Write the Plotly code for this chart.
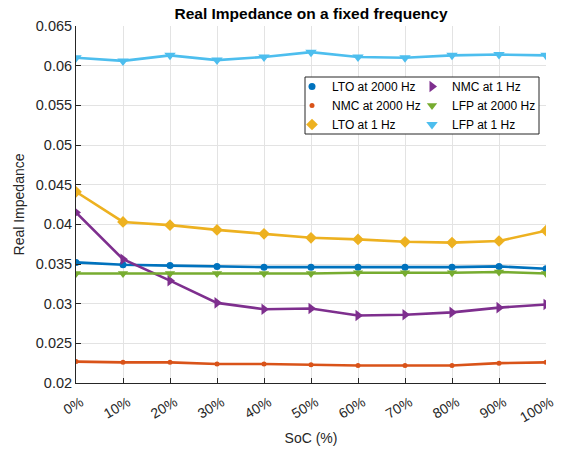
import plotly.graph_objects as go

soc = [0, 10, 20, 30, 40, 50, 60, 70, 80, 90, 100]
soc_labels = ["0%", "10%", "20%", "30%", "40%", "50%", "60%", "70%", "80%", "90%", "100%"]

lto_2000 = [0.0352, 0.0349, 0.0348, 0.0347, 0.0346, 0.0346, 0.0346, 0.0346, 0.0346, 0.0347, 0.0344]
nmc_2000 = [0.0227, 0.0226, 0.0226, 0.0224, 0.0224, 0.0223, 0.0222, 0.0222, 0.0222, 0.0225, 0.0226]
lto_1 = [0.0441, 0.0403, 0.0399, 0.0393, 0.0388, 0.0383, 0.0381, 0.0378, 0.0377, 0.0379, 0.0392]
nmc_1 = [0.0415, 0.0356, 0.0329, 0.0301, 0.0293, 0.0294, 0.0285, 0.0286, 0.0289, 0.0295, 0.0299]
lfp_2000 = [0.0338, 0.0338, 0.0338, 0.0338, 0.0338, 0.0338, 0.0339, 0.0339, 0.0339, 0.0340, 0.0338]
lfp_1 = [0.0610, 0.0606, 0.0613, 0.0607, 0.0611, 0.0617, 0.0611, 0.0610, 0.0613, 0.0614, 0.0613]

y_ticks = [0.02, 0.025, 0.03, 0.035, 0.04, 0.045, 0.05, 0.055, 0.06, 0.065]
y_tick_labels = ["0.02", "0.025", "0.03", "0.035", "0.04", "0.045", "0.05", "0.055", "0.06", "0.065"]

series = [
    # name, values, color, symbol, marker size, legend column
    ("LTO at 2000 Hz", lto_2000, "#0072BD", "circle", 7, "legend"),
    ("NMC at 2000 Hz", nmc_2000, "#D95319", "circle", 5, "legend"),
    ("LTO at 1 Hz", lto_1, "#EDB120", "diamond", 9, "legend"),
    ("NMC at 1 Hz", nmc_1, "#7E2F8E", "triangle-right", 10, "legend2"),
    ("LFP at 2000 Hz", lfp_2000, "#77AC30", "triangle-down", 9, "legend2"),
    ("LFP at 1 Hz", lfp_1, "#4DBEEE", "triangle-down", 10, "legend2"),
]

fig = go.Figure()
for name, vals, color, symbol, msize, leg in series:
    # connecting line (kept out of the legend so the key shows markers only)
    fig.add_trace(go.Scatter(
        x=soc, y=vals, name=name, mode="lines",
        line=dict(color=color, width=2.6), showlegend=False,
        legendgroup=name, hoverinfo="skip",
    ))
    fig.add_trace(go.Scatter(
        x=soc, y=vals, name=name, mode="markers",
        marker=dict(color=color, symbol=symbol, size=msize, line=dict(width=0)),
        legend=leg, legendgroup=name,
    ))

text_color = "#262626"
grid_color = "#e3e3e3"

# plot area spans x 76..546 px, y 26..383 px
L, R, T, B = 76, 21, 26, 67
W, H = 567, 450
pw, ph = W - L - R, H - T - B

def px_x(p):
    return (p - L) / pw

def px_y(p):
    return (H - B - p) / ph

legend_common = dict(
    bgcolor="rgba(0,0,0,0)", borderwidth=0,
    font=dict(family="Liberation Sans, Arial", size=12, color="#000000"),
    xanchor="left", yanchor="top", tracegroupgap=0, itemwidth=30,
)

fig.update_layout(
    width=W, height=H,
    margin=dict(l=L, r=R, t=T, b=B, autoexpand=False),
    paper_bgcolor="white", plot_bgcolor="white",
    font=dict(family="Liberation Sans, Arial", color=text_color),
    title=dict(
        text="<b>Real Impedance on a fixed frequency</b>",
        x=px_x(311), xref="paper", xanchor="center",
        y=1 - 14 / H, yanchor="middle",
        font=dict(size=15.5, color="#000000"),
    ),
    legend=dict(x=px_x(292), y=px_y(72), **legend_common),
    legend2=dict(x=px_x(412), y=px_y(72), **legend_common),
    shapes=[dict(
        type="rect", xref="paper", yref="paper",
        x0=px_x(305), x1=px_x(539), y0=px_y(134), y1=px_y(77),
        fillcolor="white", line=dict(color="#262626", width=1), layer="above",
    )],
    xaxis=dict(
        range=[0, 100], tickmode="array", tickvals=soc, ticktext=soc_labels,
        tickangle=-30, ticks="inside", ticklen=5, tickcolor=text_color,
        ticklabelstandoff=5, ticklabelshift=5, automargin=False,
        showline=True, linecolor=text_color, linewidth=1, mirror=False,
        showgrid=True, gridcolor=grid_color, gridwidth=1, zeroline=False,
        tickfont=dict(size=14, color=text_color),
        title=dict(text="SoC (%)", font=dict(size=14, color=text_color), standoff=8),
    ),
    yaxis=dict(
        range=[0.02, 0.065], tickmode="array", tickvals=y_ticks, ticktext=y_tick_labels,
        ticks="inside", ticklen=5, tickcolor=text_color, automargin=False,
        showline=True, linecolor=text_color, linewidth=1, mirror=False,
        showgrid=True, gridcolor=grid_color, gridwidth=1, zeroline=False,
        tickfont=dict(size=14.5, color=text_color),
        title=dict(text="Real Impedance", font=dict(size=14, color=text_color), standoff=7),
    ),
)

fig.write_html("out.html")
